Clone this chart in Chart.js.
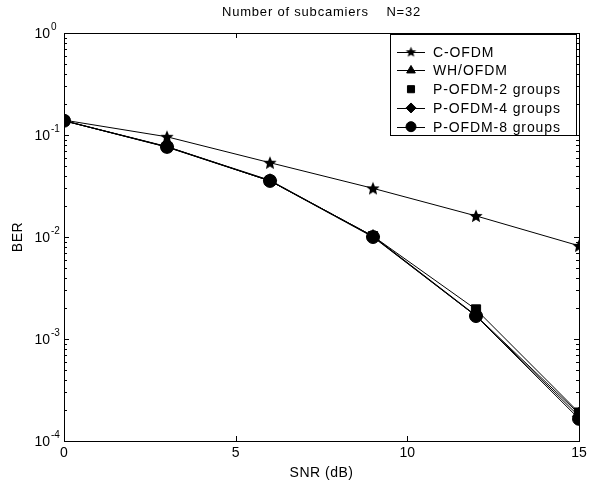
<!DOCTYPE html>
<html><head><meta charset="utf-8">
<script src="https://cdn.jsdelivr.net/npm/chart.js@4/dist/chart.umd.min.js"></script>
<style>html,body{margin:0;padding:0;background:#fff}#wrap{width:593px;height:485px}</style>
</head><body><div id="wrap"><canvas id="c" width="593" height="485"></canvas></div>
<script>
const snr = [0, 3, 6, 9, 12, 15];
const cOFDM  = [0.140, 0.096, 0.0535, 0.030, 0.0161, 0.0082];
const whOFDM = [0.138, 0.077, 0.0355, 0.0102, 0.0017, 0.000185];
const p2     = [0.138, 0.076, 0.0355, 0.0102, 0.00195, 0.00019];
const p4     = [0.138, 0.0765, 0.036, 0.0101, 0.00168, 0.000175];
const p8     = [0.138, 0.0765, 0.0355, 0.0100, 0.00168, 0.000165];
const seriesNames = ['C-OFDM', 'WH/OFDM', 'P-OFDM-2 groups', 'P-OFDM-4 groups', 'P-OFDM-8 groups'];
const xTicks = [0, 5, 10, 15];
const yDecades = [1e-4, 1e-3, 1e-2, 1e-1, 1];
const yExponents = ['-4', '-3', '-2', '-1', '0'];
const titleText = 'Number of subcamiers    N=32';
const xTitle = 'SNR (dB)';
const yTitle = 'BER';

function starCanvas(r) {
  const s = Math.ceil(r * 2 + 2);
  const cv = document.createElement('canvas');
  cv.width = s; cv.height = s;
  const g = cv.getContext('2d');
  g.fillStyle = '#000';
  g.beginPath();
  for (let i = 0; i < 10; i++) {
    const a = -Math.PI / 2 + i * Math.PI / 5;
    const rr = i % 2 === 0 ? r : r * 0.45;
    const x = s / 2 + rr * Math.cos(a), y = s / 2 + rr * Math.sin(a) + 0.5;
    if (i === 0) g.moveTo(x, y); else g.lineTo(x, y);
  }
  g.closePath(); g.fill();
  return cv;
}
const star = starCanvas(7);
const starSmall = starCanvas(5.5);

const styles = [
  {pointStyle: star, legendStyle: starSmall},
  {pointStyle: 'triangle', legendStyle: 'triangle'},
  {pointStyle: 'rect', legendStyle: 'rect'},
  {pointStyle: 'rectRot', legendStyle: 'rectRot'},
  {pointStyle: 'circle', legendStyle: 'circle'}
];
const allData = [cOFDM, whOFDM, p2, p4, p8];

const datasets = allData.map((vals, i) => ({
  label: seriesNames[i],
  data: snr.map((x, j) => ({x: x, y: vals[j]})),
  borderColor: '#000',
  backgroundColor: '#000',
  borderWidth: 1,
  pointStyle: styles[i].pointStyle,
  pointRadius: 6.5,
  pointBorderWidth: 1,
  pointBorderColor: '#000',
  pointBackgroundColor: '#000',
  tension: 0,
  fill: false
}));

const FONT = '"Liberation Sans", Arial, sans-serif';

const framePlugin = {
  id: 'frame',
  afterDraw(chart) {
    const ctx = chart.ctx;
    const a = chart.chartArea;
    const xs = chart.scales.x, ys = chart.scales.y;
    ctx.save();
    ctx.strokeStyle = '#000';
    ctx.lineWidth = 1;
    ctx.strokeRect(Math.round(a.left) + 0.5, Math.round(a.top) + 0.5, Math.round(a.right - a.left), Math.round(a.bottom - a.top));
    ctx.beginPath();
    xTicks.forEach(v => {
      const px = Math.round(xs.getPixelForValue(v)) + 0.5;
      ctx.moveTo(px, a.bottom); ctx.lineTo(px, a.bottom - 5);
      ctx.moveTo(px, a.top); ctx.lineTo(px, a.top + 5);
    });
    for (let d = 0; d < yDecades.length; d++) {
      const base = yDecades[d];
      const py = Math.round(ys.getPixelForValue(base)) + 0.5;
      ctx.moveTo(a.left, py); ctx.lineTo(a.left + 5, py);
      ctx.moveTo(a.right, py); ctx.lineTo(a.right - 5, py);
      if (d < yDecades.length - 1) {
        for (let m = 2; m <= 9; m++) {
          const pm = Math.round(ys.getPixelForValue(base * m)) + 0.5;
          ctx.moveTo(a.left, pm); ctx.lineTo(a.left + 3, pm);
          ctx.moveTo(a.right, pm); ctx.lineTo(a.right - 3, pm);
        }
      }
    }
    ctx.stroke();

    ctx.fillStyle = '#000';
    // y tick labels 10^n
    for (let d = 0; d < yDecades.length; d++) {
      const py = ys.getPixelForValue(yDecades[d]);
      ctx.font = '14px ' + FONT;
      ctx.textAlign = 'right';
      ctx.textBaseline = 'middle';
      ctx.fillText('10', 50, py + 1);
      ctx.font = '10px ' + FONT;
      ctx.textAlign = 'left';
      ctx.fillText(yExponents[d], 51, py - 6);
    }

    // title
    ctx.font = '13px ' + FONT;
    ctx.letterSpacing = '0.8px';
    ctx.textAlign = 'center';
    ctx.textBaseline = 'middle';
    ctx.fillText(titleText, (a.left + a.right) / 2, 12);

    // x title
    ctx.font = '14px ' + FONT;
    ctx.letterSpacing = '0.5px';
    ctx.fillText(xTitle, (a.left + a.right) / 2, 473);

    // y title
    ctx.save();
    ctx.translate(18, (a.top + a.bottom) / 2);
    ctx.rotate(-Math.PI / 2);
    ctx.fillText(yTitle, 0, 0);
    ctx.restore();

    // legend
    const lx = 390, ly = 34, lw = 186, lh = 101;
    ctx.fillStyle = '#fff';
    ctx.fillRect(lx, ly, lw, lh);
    ctx.strokeStyle = '#000';
    ctx.strokeRect(lx + 0.5, ly + 0.5, lw, lh);
    const rowH = 18.75;
    chart.data.datasets.forEach((ds, i) => {
      const cy = ly + 17.7 + i * rowH;
      if (i !== 2) {
        ctx.beginPath();
        ctx.moveTo(397, Math.round(cy) + 0.5); ctx.lineTo(425, Math.round(cy) + 0.5);
        ctx.strokeStyle = '#000'; ctx.lineWidth = 1; ctx.stroke();
      }
      ctx.fillStyle = '#000';
      ctx.strokeStyle = '#000';
      Chart.helpers.drawPoint(ctx, {pointStyle: styles[i].legendStyle, radius: 5, rotation: 0, borderWidth: 1}, 411, cy);
      ctx.fillStyle = '#000';
      ctx.font = '14px ' + FONT;
      ctx.letterSpacing = '0.9px';
      ctx.textAlign = 'left';
      ctx.textBaseline = 'middle';
      ctx.fillText(ds.label, 433, cy + 1);
    });
    ctx.restore();
  }
};

new Chart(document.getElementById('c'), {
  type: 'line',
  data: {datasets: datasets},
  options: {
    responsive: false,
    animation: false,
    devicePixelRatio: 1,
    layout: {padding: {top: 33, right: 14, left: 0, bottom: 0}},
    plugins: {legend: {display: false}, tooltip: {enabled: false}, title: {display: false}},
    scales: {
      x: {
        type: 'linear', min: 0, max: 15,
        grid: {display: false, drawTicks: false}, border: {display: false},
        afterBuildTicks(s) { s.ticks = xTicks.map(v => ({value: v})); },
        afterFit(s) { s.height = 44; },
        ticks: {color: '#000', font: {family: FONT, size: 14}, padding: 4, maxRotation: 0}
      },
      y: {
        type: 'logarithmic', min: 1e-4, max: 1,
        grid: {display: false, drawTicks: false}, border: {display: false},
        afterBuildTicks(s) { s.ticks = yDecades.map(v => ({value: v})); },
        afterFit(s) { s.width = 64; },
        ticks: {display: false}
      }
    }
  },
  plugins: [framePlugin]
});
</script>
</body></html>
